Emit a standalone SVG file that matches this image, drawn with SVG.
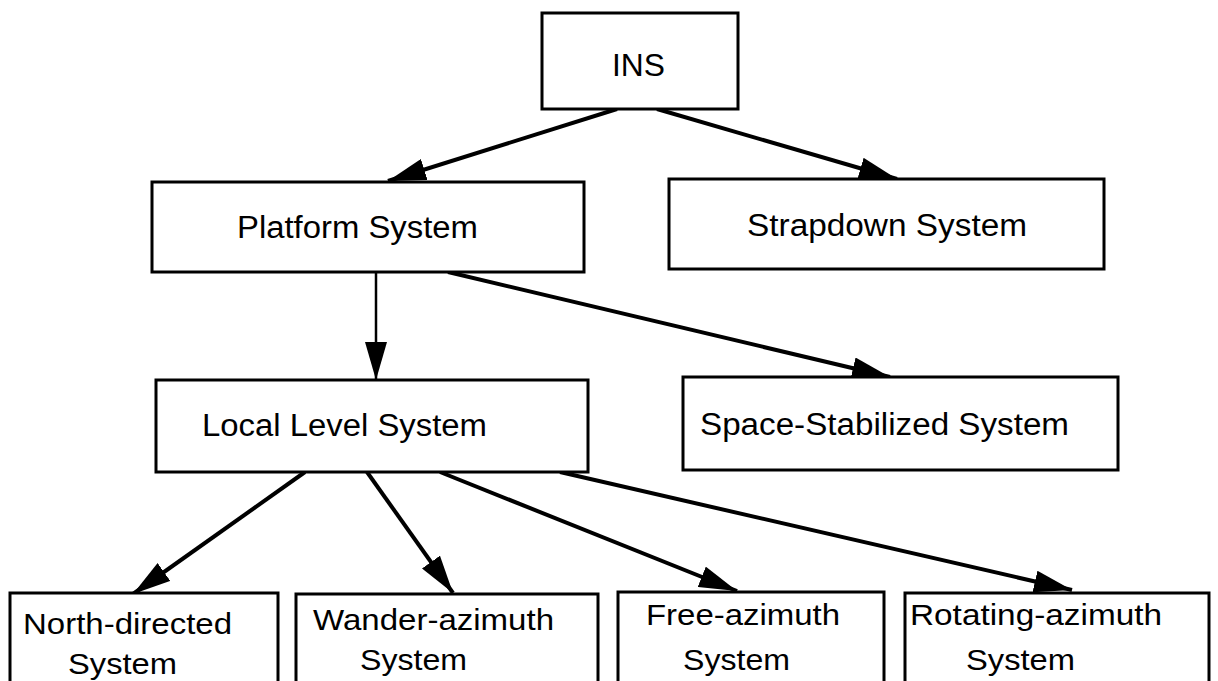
<svg xmlns="http://www.w3.org/2000/svg" width="1218" height="681" viewBox="0 0 1218 681">
<style>
.box{fill:#fff;stroke:#000;stroke-width:3}
.t{font-family:"Liberation Sans",Arial,sans-serif;font-size:31px;fill:#000}
.s{font-family:"Liberation Sans",Arial,sans-serif;font-size:29px;fill:#000}
.c{fill:none;stroke:#000;stroke-width:4;marker-end:url(#ah)}
.v{fill:none;stroke:#000;stroke-width:2.5;marker-end:url(#ah)}
</style>
<defs>
<marker id="ah" viewBox="0 0 38 22" markerWidth="38" markerHeight="22" refX="38" refY="11" orient="auto" markerUnits="userSpaceOnUse">
<path d="M0,0 L38,11 L0,22 z" fill="#000"/>
</marker>
</defs>
<rect width="1218" height="681" fill="#fff"/>
<g id="connectors">
<line class="c" x1="617" y1="109" x2="388" y2="181"/>
<line class="c" x1="657" y1="109" x2="897" y2="179"/>
<line class="v" x1="376" y1="272" x2="376" y2="380"/>
<line class="c" x1="448" y1="272" x2="890" y2="377"/>
<line class="c" x1="305" y1="472" x2="133" y2="594"/>
<line class="c" x1="367" y1="472" x2="453" y2="593"/>
<line class="c" x1="440" y1="472" x2="737" y2="591"/>
<line class="c" x1="560" y1="472" x2="1072" y2="590"/>
</g>
<g id="ins">
<rect class="box" x="542" y="13" width="196" height="96"/>
<text class="t" x="612" y="76" textLength="53" lengthAdjust="spacingAndGlyphs">INS</text>
</g>
<g id="platform">
<rect class="box" x="152" y="182" width="432" height="90"/>
<text class="t" x="237" y="238" textLength="241" lengthAdjust="spacingAndGlyphs">Platform System</text>
</g>
<g id="strapdown">
<rect class="box" x="669" y="179" width="435" height="90"/>
<text class="t" x="747" y="236" textLength="280" lengthAdjust="spacingAndGlyphs">Strapdown System</text>
</g>
<g id="local">
<rect class="box" x="156" y="380" width="432" height="92"/>
<text class="t" x="202" y="436" textLength="285" lengthAdjust="spacingAndGlyphs">Local Level System</text>
</g>
<g id="space">
<rect class="box" x="683" y="377" width="435" height="93"/>
<text class="t" x="700" y="435" textLength="369" lengthAdjust="spacingAndGlyphs">Space-Stabilized System</text>
</g>
<g id="north">
<rect class="box" x="10" y="593" width="268" height="110"/>
<text class="s" x="23" y="634" textLength="209" lengthAdjust="spacingAndGlyphs">North-directed</text>
<text class="s" x="68" y="674" textLength="109" lengthAdjust="spacingAndGlyphs">System</text>
</g>
<g id="wander">
<rect class="box" x="296" y="594" width="302" height="110"/>
<text class="s" x="313" y="630" textLength="241" lengthAdjust="spacingAndGlyphs">Wander-azimuth</text>
<text class="s" x="360" y="670" textLength="107" lengthAdjust="spacingAndGlyphs">System</text>
</g>
<g id="free">
<rect class="box" x="618" y="592" width="266" height="110"/>
<text class="s" x="646" y="625" textLength="194" lengthAdjust="spacingAndGlyphs">Free-azimuth</text>
<text class="s" x="683" y="670" textLength="107" lengthAdjust="spacingAndGlyphs">System</text>
</g>
<g id="rotating">
<rect class="box" x="905" y="593" width="304" height="110"/>
<text class="s" x="910" y="625" textLength="252" lengthAdjust="spacingAndGlyphs">Rotating-azimuth</text>
<text class="s" x="966" y="670" textLength="109" lengthAdjust="spacingAndGlyphs">System</text>
</g>
</svg>
